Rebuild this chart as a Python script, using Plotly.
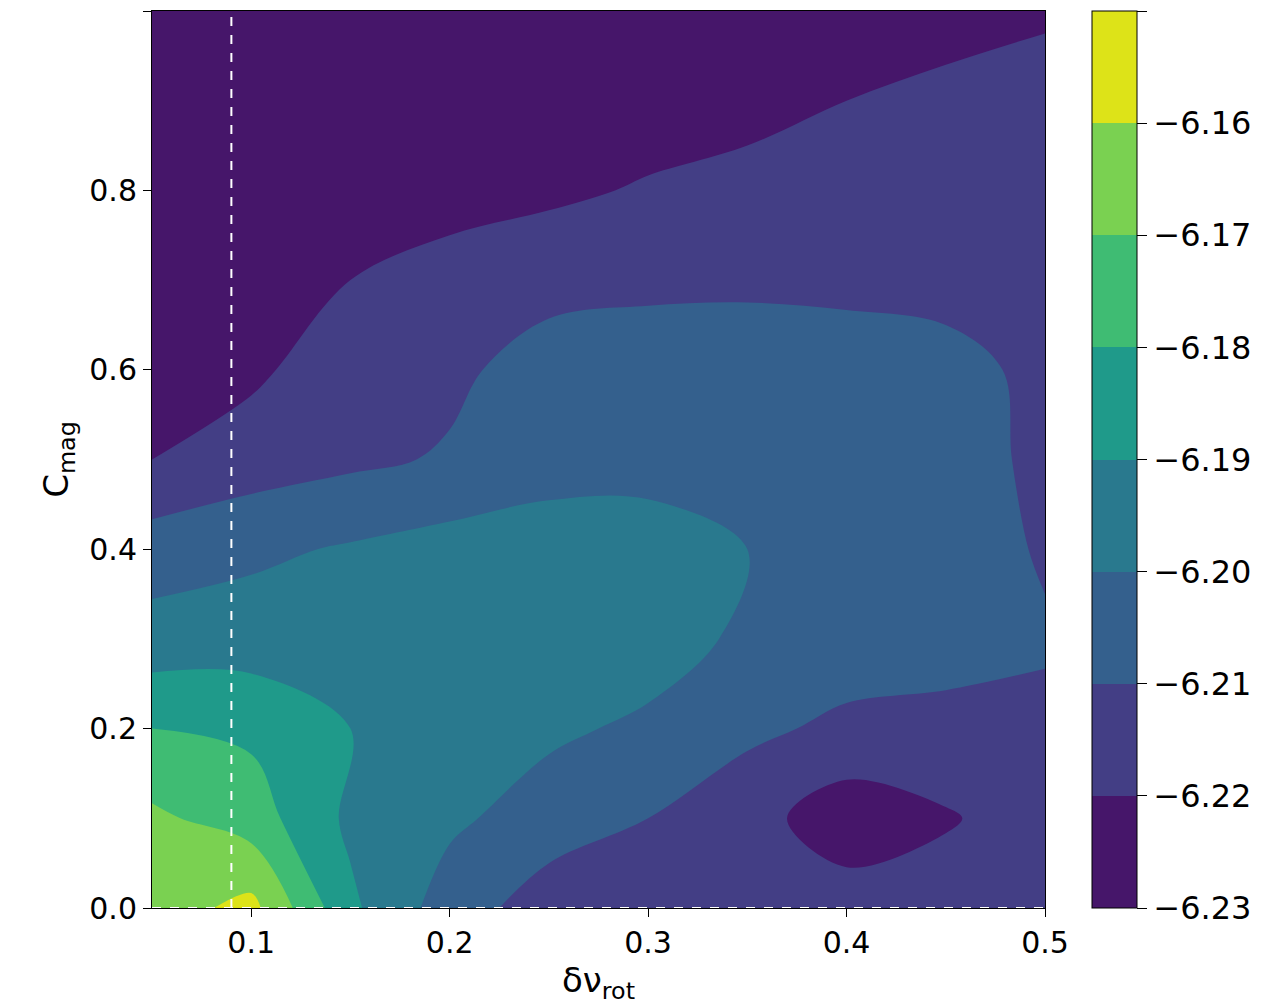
import plotly.graph_objects as go

x_vals = [0.05, 0.1, 0.15, 0.2, 0.25, 0.3, 0.35, 0.4, 0.45, 0.5]
y_vals = [0.0, 0.1, 0.2, 0.3, 0.4, 0.5, 0.6, 0.7, 0.8, 0.9, 1.0]
z_rows = [
    [-6.165, -6.157, -6.188, -6.205, -6.215, -6.215, -6.215, -6.215, -6.215, -6.215],
    [-6.168, -6.175, -6.192, -6.198, -6.205, -6.210, -6.216, -6.226, -6.221, -6.215],
    [-6.180, -6.182, -6.190, -6.195, -6.198, -6.202, -6.208, -6.212, -6.213, -6.212],
    [-6.196, -6.195, -6.195, -6.194, -6.193, -6.195, -6.202, -6.205, -6.206, -6.209],
    [-6.205, -6.202, -6.199, -6.196, -6.194, -6.195, -6.200, -6.205, -6.205, -6.211],
    [-6.220, -6.215, -6.212, -6.209, -6.205, -6.204, -6.204, -6.205, -6.206, -6.212],
    [-6.224, -6.222, -6.214, -6.212, -6.206, -6.205, -6.204, -6.204, -6.206, -6.213],
    [-6.226, -6.225, -6.220, -6.216, -6.213, -6.212, -6.212, -6.213, -6.214, -6.215],
    [-6.227, -6.227, -6.226, -6.224, -6.222, -6.219, -6.217, -6.216, -6.215, -6.215],
    [-6.228, -6.228, -6.228, -6.227, -6.226, -6.225, -6.223, -6.220, -6.218, -6.217],
    [-6.229, -6.229, -6.229, -6.229, -6.228, -6.227, -6.226, -6.225, -6.223, -6.221],
]
levels_start, levels_end, levels_step = -6.23, -6.15, 0.01
tick_vals = [-6.23, -6.22, -6.21, -6.20, -6.19, -6.18, -6.17, -6.16, -6.15]
tick_text = ["−6.23", "−6.22", "−6.21", "−6.20", "−6.19", "−6.18", "−6.17", "−6.16", "−6.15"]
band_colors = ["#46166a", "#433e85", "#34608d", "#29798e", "#1f9a8a", "#3fbc73", "#7ad151", "#dde318"]
vline_x = 0.09
hline_y = 0.0

n = len(band_colors)
cs = []
for i, c in enumerate(band_colors):
    cs.append([i / n, c])
    cs.append([(i + 1) / n, c])

fig = go.Figure(go.Contour(
    x=x_vals, y=y_vals, z=z_rows,
    contours=dict(start=levels_start, end=levels_end, size=levels_step, coloring="fill"),
    colorscale=cs, zmin=levels_start, zmax=levels_end,
    line=dict(width=0), line_smoothing=1.0,
    colorbar=dict(x=1.041, xanchor="left", y=0.5, len=1, ypad=0, thickness=45,
                  tickvals=tick_vals, ticktext=tick_text, ticks="outside", ticklen=10,
                  tickcolor="black", tickfont=dict(size=32, color="black"),
                  outlinecolor="black", outlinewidth=1),
))
fig.add_shape(type="line", x0=vline_x, x1=vline_x, y0=0, y1=1, xref="x", yref="paper",
              line=dict(color="white", width=2, dash="dash"))
fig.add_shape(type="line", x0=0, x1=1, y0=hline_y, y1=hline_y, xref="paper", yref="y",
              line=dict(color="white", width=2, dash="dash"))
axis = dict(showgrid=False, zeroline=False, ticks="outside", ticklen=8, tickcolor="black",
            showline=True, linecolor="black", mirror=True, tickfont=dict(size=30, color="black"))
fig.update_xaxes(range=[0.05, 0.5], tickvals=[0.1, 0.2, 0.3, 0.4, 0.5],
                 title=dict(text="δν<sub>rot</sub>", font=dict(size=34, color="black"), standoff=5), **axis)
fig.update_yaxes(range=[0, 1], tickvals=[0, 0.2, 0.4, 0.6, 0.8, 1.0], tickformat=".1f",
                 title=dict(text="C<sub>mag</sub>", font=dict(size=34, color="black"), standoff=10), **axis)
fig.update_layout(width=1288, height=1002, margin=dict(l=144, r=251, t=3, b=102),
                  paper_bgcolor="white", plot_bgcolor="white",
                  font=dict(family="DejaVu Sans"))
fig.write_html("out.html")
